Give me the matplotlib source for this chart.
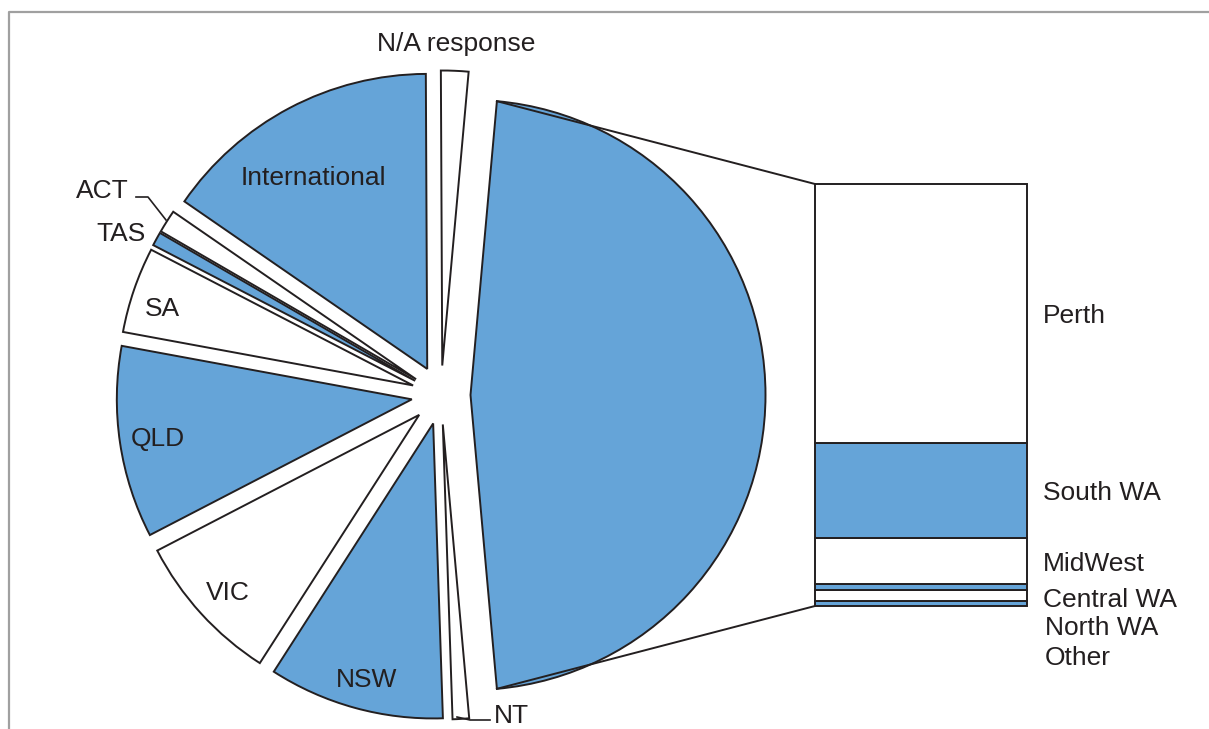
import matplotlib.pyplot as plt
import numpy as np

plt.rcParams['font.family'] = ['Liberation Sans', 'DejaVu Sans']

# pie: share of respondents by region (%)
regions = ["WA", "N/A response", "International", "ACT", "TAS", "SA", "QLD", "VIC", "NSW", "NT"]
region_pct = [47.1, 1.5, 15.3, 1.25, 0.75, 4.7, 10.5, 8.3, 9.6, 0.9]

# bar: breakdown of WA (%), top to bottom
wa_areas = ["Perth", "South WA", "MidWest", "Central WA", "North WA", "Other"]
wa_pct = [61.4, 22.3, 11.1, 1.2, 2.6, 1.3]

blue = "#65a4d8"
ink = "#231f20"
W, H = 1209, 729

fig = plt.figure(figsize=(W / 100, H / 100), dpi=100)
ax = fig.add_axes([0, 0, 1, 1])

def py(y):
    # pixel row -> data y
    return H - y

R = 295
colors = [blue if i % 2 == 0 else "white" for i in range(len(regions))]
start = -region_pct[0] / sum(region_pct) * 360 / 2
# explode is in data units here, so scale by the radius
wedges, _ = ax.pie(region_pct, colors=colors, explode=[0.1 * R] * len(regions),
                   startangle=start, counterclock=True, radius=R,
                   center=(441, py(395)), frame=True,
                   wedgeprops=dict(edgecolor=ink, linewidth=1.4, joinstyle="miter"))

# stacked bar for WA
bx, bw = 921, 212
b_bottom, b_height = py(606), 606 - 184
tot = sum(wa_pct)
bottom = b_bottom
for i, (name, v) in reversed(list(enumerate(zip(wa_areas, wa_pct)))):
    h = v / tot * b_height
    ax.bar(bx, h, width=bw, bottom=bottom, color=blue if i % 2 else "white",
           edgecolor=ink, linewidth=1.4, zorder=3)
    bottom += h

# connectors from WA wedge to bar
wa = wedges[0]
cx, cy = wa.center
for th, by in [(wa.theta2, b_bottom + b_height), (wa.theta1, b_bottom)]:
    x0 = cx + wa.r * np.cos(np.radians(th))
    y0 = cy + wa.r * np.sin(np.radians(th))
    ax.plot([x0, bx - bw / 2], [y0, by], color=ink, lw=1.4, zorder=2)

fs = 19
def label(s, x, yc, ha="center"):
    ax.text(x, py(yc + 9), s, ha=ha, va="baseline", fontsize=fs, color=ink)

label("N/A response", 456, 42)
label("International", 313, 176)
label("ACT", 129, 189, ha="right")
label("TAS", 121, 232)
label("SA", 162, 307)
label("QLD", 158, 437)
label("VIC", 228, 591)
label("NSW", 367, 678)
label("NT", 494, 714, ha="left")

bar_label_y = [314, 491, 562, 598, 626, 656]
bar_label_x = [1043, 1043, 1043, 1043, 1045, 1045]
for name, x, y in zip(wa_areas, bar_label_x, bar_label_y):
    label(name, x, y, ha="left")

# leader lines
ax.plot([136, 148, 166], [py(197), py(197), py(220)], color=ink, lw=1.2)
ax.plot([457, 470, 490], [py(717), py(720), py(720)], color=ink, lw=1.2)

# frame
ax.plot([8.5, 8.5, W + 5], [py(H + 5), py(12), py(12)], color="#a0a0a0", lw=1.6, zorder=5)

ax.set_xlim(0, W)
ax.set_ylim(0, H)
ax.set_aspect("auto")
ax.axis("off")

fig.savefig("out.png", dpi=100)
